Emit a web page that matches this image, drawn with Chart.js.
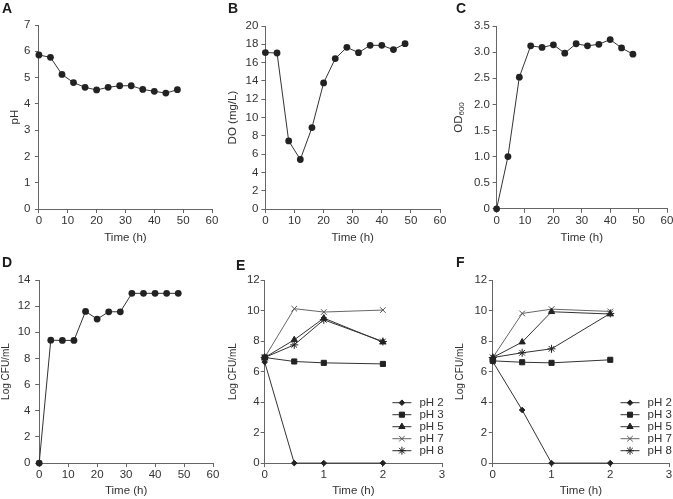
<!DOCTYPE html>
<html><head><meta charset="utf-8">
<script src="https://cdn.jsdelivr.net/npm/chart.js@4.4.1/dist/chart.umd.min.js"></script>
<style>
html,body{margin:0;padding:0;background:#fff;overflow:hidden;}
body{width:673px;height:499px;position:relative;font-family:"Liberation Sans",Arial,sans-serif;}
canvas{position:absolute;}
.lbl{position:absolute;font:bold 14px "Liberation Sans",Arial,sans-serif;line-height:1;color:#1a1a1a;}
</style></head><body>
<canvas id="cA"></canvas><canvas id="cB"></canvas><canvas id="cC"></canvas>
<canvas id="cD"></canvas><canvas id="cE"></canvas><canvas id="cF"></canvas>
<div class="lbl" style="left:2px;top:1px">A</div>
<div class="lbl" style="left:228px;top:1px">B</div>
<div class="lbl" style="left:456px;top:1px">C</div>
<div class="lbl" style="left:2px;top:255px">D</div>
<div class="lbl" style="left:236px;top:258px">E</div>
<div class="lbl" style="left:456px;top:255px">F</div>
<script>
// ---------- data ----------
const timeHours = [0, 4, 8, 12, 16, 20, 24, 28, 32, 36, 40, 44, 48];
const phValues  = [5.86, 5.77, 5.12, 4.81, 4.63, 4.53, 4.63, 4.69, 4.69, 4.55, 4.48, 4.41, 4.54];
const doValues  = [17.1, 17.05, 7.45, 5.42, 8.9, 13.78, 16.44, 17.67, 17.09, 17.89, 17.89, 17.42, 18.07];
const odValues  = [0, 1.0, 2.52, 3.12, 3.09, 3.14, 2.98, 3.16, 3.12, 3.15, 3.24, 3.08, 2.96];
const cfuValues = [0, 9.4, 9.38, 9.38, 11.6, 11.01, 11.57, 11.57, 12.98, 12.98, 12.98, 12.98, 12.98];

const acidTimes = [0, 0.5, 1, 2];
const seriesLabels = ['pH 2', 'pH 3', 'pH 5', 'pH 7', 'pH 8'];
const ePH2 = [6.62, 0, 0, 0];
const ePH3 = [6.92, 6.66, 6.57, 6.50];
const ePH5 = [6.92, 8.08, 9.50, 7.93];
const ePH7 = [6.92, 10.12, 9.90, 10.03];
const ePH8 = [6.92, 7.75, 9.39, 7.97];
const fPH2 = [6.65, 3.48, 0, 0];
const fPH3 = [6.70, 6.61, 6.57, 6.77];
const fPH5 = [6.92, 7.93, 9.92, 9.77];
const fPH7 = [6.92, 9.81, 10.09, 9.94];
const fPH8 = [6.92, 7.23, 7.49, 9.81];

// ---------- styling ----------
const FAM = '"Liberation Sans", Arial, sans-serif';
const TXT = '#333';
const AX = '#666';
const LINE = '#333';
const TICK_FS = 11.5, TITLE_FS = 11.5;

const toXY = (xs, ys) => xs.map((x, i) => ({x, y: ys[i]}));

const legendPlugin = {
  id: 'sideLegend',
  afterDraw(chart, args, o) {
    if (!o || !o.show) return;
    const ctx = chart.ctx;
    chart.data.datasets.forEach((ds, i) => {
      const y = o.y + i * o.dy;
      ctx.save();
      ctx.strokeStyle = ds.borderColor; ctx.lineWidth = 1;
      ctx.beginPath(); ctx.moveTo(o.x, y); ctx.lineTo(o.x + o.len, y); ctx.stroke();
      ctx.fillStyle = ds.pointBackgroundColor; ctx.strokeStyle = ds.pointBorderColor;
      Chart.helpers.drawPoint(ctx, {pointStyle: ds.pointStyle, radius: ds.pointRadius, borderWidth: 1, rotation: 0}, o.x + o.len / 2, y);
      ctx.fillStyle = TXT; ctx.font = TICK_FS + 'px ' + FAM;
      ctx.textBaseline = 'middle'; ctx.textAlign = 'left';
      ctx.fillText(ds.label, o.x + o.len + o.gap, y);
      ctx.restore();
    });
  }
};
const subTitlePlugin = {
  id: 'subTitle',
  afterDraw(chart, args, o) {
    if (!o || !o.show) return;
    const ctx = chart.ctx;
    ctx.save();
    ctx.translate(o.x, o.y); ctx.rotate(-Math.PI / 2);
    const fMain = TITLE_FS + 'px ' + FAM, fSub = '8px ' + FAM;
    ctx.font = fMain; const w1 = ctx.measureText(o.main).width;
    ctx.font = fSub; const w2 = ctx.measureText(o.sub).width;
    const x0 = -(w1 + w2) / 2;
    ctx.fillStyle = TXT; ctx.textBaseline = 'middle'; ctx.textAlign = 'left';
    ctx.font = fMain; ctx.fillText(o.main, x0, 0);
    ctx.font = fSub; ctx.fillText(o.sub, x0 + w1, 3);
    ctx.restore();
  }
};
Chart.register(legendPlugin, subTitlePlugin);

function circleSet(xs, ys) {
  return [{
    data: toXY(xs, ys), borderColor: LINE, borderWidth: 1, tension: 0,
    pointStyle: 'circle', pointRadius: 3.4, pointBackgroundColor: '#222', pointBorderColor: '#222',
    pointBorderWidth: 0, clip: false
  }];
}
const acidStyles = [
  {pointStyle: 'rectRot', pointRadius: 2.8},
  {pointStyle: 'rect', pointRadius: 3.6},
  {pointStyle: 'triangle', pointRadius: 3.6},
  {pointStyle: 'crossRot', pointRadius: 4},
  {pointStyle: 'star', pointRadius: 4}
];
function acidSets(seriesList) {
  return seriesList.map((ys, i) => ({
    label: seriesLabels[i], data: toXY(acidTimes, ys),
    borderColor: i === 3 ? '#666' : LINE, borderWidth: 1, tension: 0,
    pointStyle: acidStyles[i].pointStyle, pointRadius: acidStyles[i].pointRadius,
    pointBackgroundColor: '#222', pointBorderColor: i === 3 ? '#555' : '#222', pointBorderWidth: 1, clip: false
  }));
}

function panel(id, p) {
  const yFs = p.yTitleFs || TITLE_FS;
  const lhY = yFs * 1.2, lhX = TITLE_FS * 1.2;
  const left = p.yTitleX - lhY / 2 - 1;
  const bottom = p.xTitleY + lhX / 2 + 1;
  const top = p.area.t - 14;
  const right = p.area.r + 10;
  const cv = document.getElementById(id);
  cv.width = Math.round(right - left); cv.height = Math.round(bottom - top);
  cv.style.left = left + 'px'; cv.style.top = top + 'px';
  const tickFont = {family: FAM, size: TICK_FS};
  const plugins = {legend: {display: false}, tooltip: {enabled: false}};
  if (p.legend) plugins.sideLegend = {show: true, x: p.legend.x - left, y: p.legend.y - top, dy: 12, len: 19, gap: 8};
  if (p.subTitle) plugins.subTitle = {show: true, x: p.yTitleX - left, y: (p.area.t + p.area.b) / 2 - top, main: p.subTitle[0], sub: p.subTitle[1]};
  new Chart(cv, {
    type: 'line',
    data: {datasets: p.datasets},
    options: {
      responsive: false, animation: false, devicePixelRatio: 1,
      layout: {padding: {left: 0, top: p.area.t - top, right: right - p.area.r, bottom: 0}},
      plugins,
      scales: {
        x: {
          type: 'linear', min: p.xMin, max: p.xMax,
          ticks: {stepSize: p.xStep, color: TXT, font: tickFont, padding: p.xPad, maxRotation: 0, autoSkip: false},
          grid: {drawOnChartArea: false, drawTicks: true, tickLength: 4, color: AX, lineWidth: 1},
          border: {display: true, color: AX, width: 1},
          title: {display: true, text: 'Time (h)', color: TXT, font: {family: FAM, size: TITLE_FS}, padding: {top: 0, bottom: 1}},
          afterFit: s => { s.height = bottom - p.area.b; }
        },
        y: {
          type: 'linear', min: p.yMin, max: p.yMax,
          ticks: {stepSize: p.yStep, color: TXT, font: tickFont, padding: p.yPad, autoSkip: false,
                  callback: p.yFmt || (v => String(v))},
          grid: {drawOnChartArea: false, drawTicks: true, tickLength: 4, color: AX, lineWidth: 1},
          border: {display: true, color: AX, width: 1},
          title: {display: !p.subTitle, text: p.yTitle || '', color: TXT, font: {family: FAM, size: yFs}, padding: {top: 1, bottom: 0}},
          afterFit: s => { s.width = p.area.l - left; }
        }
      }
    }
  });
}

panel('cA', {area: {l: 39, t: 25, r: 212, b: 209}, yTitleX: 15, xTitleY: 238, xPad: 1, yPad: 4.5,
  xMin: 0, xMax: 60, xStep: 10, yMin: 0, yMax: 7, yStep: 1, yTitle: 'pH',
  datasets: circleSet(timeHours, phValues)});
panel('cB', {area: {l: 265, t: 25.7, r: 440, b: 209}, yTitleX: 232.5, xTitleY: 238, xPad: 1, yPad: 3,
  xMin: 0, xMax: 60, xStep: 10, yMin: 0, yMax: 20, yStep: 2, yTitle: 'DO (mg/L)',
  datasets: circleSet(timeHours, doValues)});
panel('cC', {area: {l: 496.7, t: 25.7, r: 666.7, b: 208.7}, yTitleX: 459, xTitleY: 238, xPad: 1, yPad: 2.7,
  xMin: 0, xMax: 60, xStep: 10, yMin: 0, yMax: 3.5, yStep: 0.5, subTitle: ['OD', '600'],
  yFmt: v => (v === 0 ? '0' : v.toFixed(1)),
  datasets: circleSet(timeHours, odValues)});
panel('cD', {area: {l: 38.7, t: 280.3, r: 212.3, b: 463}, yTitleX: 5.5, xTitleY: 491, xPad: 1, yPad: 4.7,
  xMin: 0, xMax: 60, xStep: 10, yMin: 0, yMax: 14, yStep: 2, yTitle: 'Log CFU/mL', yTitleFs: 10,
  datasets: circleSet(timeHours, cfuValues)});
panel('cE', {area: {l: 265, t: 280.3, r: 442, b: 463}, yTitleX: 233.3, xTitleY: 491, xPad: 1, yPad: 1,
  xMin: 0, xMax: 3, xStep: 1, yMin: 0, yMax: 12, yStep: 2, yTitle: 'Log CFU/mL', yTitleFs: 10,
  legend: {x: 392.7, y: 403},
  datasets: acidSets([ePH2, ePH3, ePH5, ePH7, ePH8])});
panel('cF', {area: {l: 492.3, t: 280.3, r: 668.7, b: 463}, yTitleX: 459.5, xTitleY: 491, xPad: 1, yPad: 1.6,
  xMin: 0, xMax: 3, xStep: 1, yMin: 0, yMax: 12, yStep: 2, yTitle: 'Log CFU/mL', yTitleFs: 10,
  legend: {x: 620, y: 403},
  datasets: acidSets([fPH2, fPH3, fPH5, fPH7, fPH8])});
</script>
</body></html>
